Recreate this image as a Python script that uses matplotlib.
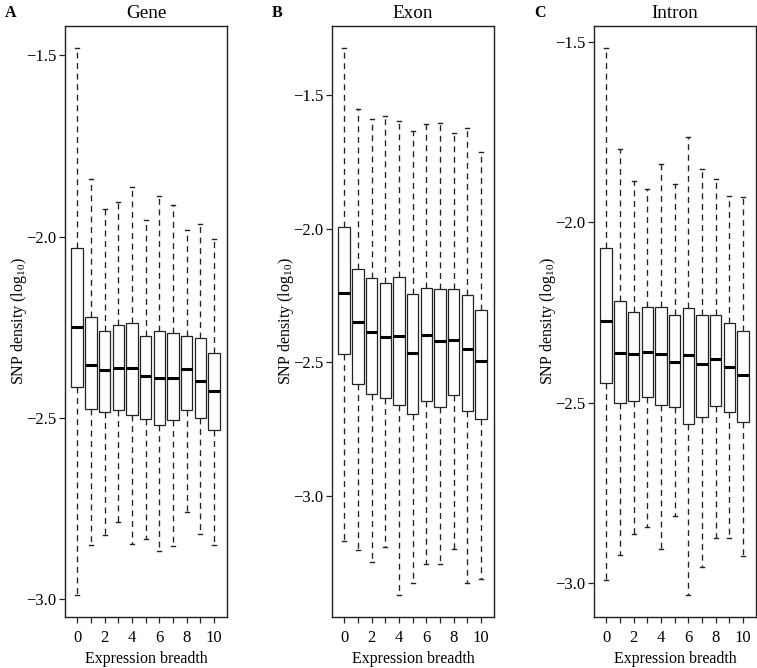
import matplotlib
matplotlib.use("Agg")
import matplotlib.pyplot as plt

plt.rcParams['font.family'] = ['Liberation Serif', 'DejaVu Serif']
plt.rcParams['mathtext.fontset'] = 'custom'
plt.rcParams['mathtext.rm'] = 'Liberation Serif'
plt.rcParams['font.size'] = 11.5

breadth = list(range(11))

# Gene
gene_whishi = [-1.479, -1.841, -1.923, -1.904, -1.864, -1.955, -1.889, -1.913, -1.983, -1.966, -2.006]
gene_q3 = [-2.031, -2.222, -2.259, -2.244, -2.238, -2.275, -2.261, -2.266, -2.275, -2.280, -2.321]
gene_med = [-2.248, -2.353, -2.368, -2.363, -2.363, -2.384, -2.390, -2.389, -2.365, -2.397, -2.427]
gene_q1 = [-2.415, -2.476, -2.484, -2.478, -2.492, -2.502, -2.521, -2.506, -2.478, -2.501, -2.533]
gene_whislo = [-2.989, -2.851, -2.823, -2.788, -2.847, -2.835, -2.866, -2.854, -2.759, -2.820, -2.851]

# Exon
exon_whishi = [-1.323, -1.551, -1.588, -1.579, -1.597, -1.636, -1.610, -1.606, -1.641, -1.622, -1.713]
exon_q3 = [-1.994, -2.152, -2.183, -2.202, -2.179, -2.246, -2.222, -2.227, -2.227, -2.249, -2.305]
exon_med = [-2.239, -2.349, -2.387, -2.404, -2.400, -2.464, -2.398, -2.420, -2.418, -2.451, -2.495]
exon_q1 = [-2.467, -2.580, -2.617, -2.635, -2.658, -2.694, -2.646, -2.666, -2.623, -2.682, -2.711]
exon_whislo = [-3.170, -3.203, -3.247, -3.190, -3.371, -3.324, -3.256, -3.256, -3.197, -3.324, -3.309]

# Intron
intron_whishi = [-1.517, -1.797, -1.885, -1.907, -1.840, -1.894, -1.764, -1.852, -1.880, -1.928, -1.930]
intron_q3 = [-2.071, -2.219, -2.249, -2.235, -2.235, -2.256, -2.239, -2.258, -2.256, -2.279, -2.302]
intron_med = [-2.274, -2.362, -2.366, -2.361, -2.366, -2.386, -2.367, -2.392, -2.378, -2.400, -2.424]
intron_q1 = [-2.445, -2.500, -2.494, -2.484, -2.507, -2.512, -2.558, -2.541, -2.509, -2.526, -2.553]
intron_whislo = [-2.991, -2.921, -2.863, -2.844, -2.906, -2.814, -3.033, -2.955, -2.874, -2.874, -2.925]

yticks = [-3.0, -2.5, -2.0, -1.5]
ytick_labels = ['\u22123.0', '\u22122.5', '\u22122.0', '\u22121.5']

panels = [
    ("A", "Gene", gene_whislo, gene_q1, gene_med, gene_q3, gene_whishi),
    ("B", "Exon", exon_whislo, exon_q1, exon_med, exon_q3, exon_whishi),
    ("C", "Intron", intron_whislo, intron_q1, intron_med, intron_q3, intron_whishi),
]

fig = plt.figure(figsize=(7.57, 6.68), dpi=100)
lefts = [65 / 757, 332 / 757, 594 / 757]
edge = '#222222'

for left, (letter, title, lo, q1, med, q3, hi) in zip(lefts, panels):
    ax = fig.add_axes([left, 0.0763, 162 / 757, 0.885])
    stats = []
    for i in range(len(breadth)):
        stats.append(dict(whislo=lo[i], q1=q1[i], med=med[i], q3=q3[i], whishi=hi[i], fliers=[]))
    ax.bxp(stats, positions=breadth, widths=0.85, capwidths=0.3, patch_artist=True,
           showfliers=False,
           boxprops=dict(facecolor='white', edgecolor=edge, linewidth=0.9),
           medianprops=dict(color='black', linewidth=2.2, solid_capstyle='butt'),
           whiskerprops=dict(color=edge, linewidth=0.95, linestyle=(0, (4.5, 3.5))),
           capprops=dict(color=edge, linewidth=1.0))
    allv = lo + hi
    span = max(allv) - min(allv)
    ax.set_ylim(min(allv) - 0.04 * span, max(allv) + 0.04 * span)
    ax.set_xlim(-0.9, 10.95)
    ax.set_xticks(breadth)
    ax.set_xticklabels([str(b) if b % 2 == 0 else '' for b in breadth])
    ax.set_yticks(yticks)
    ax.set_yticklabels(ytick_labels, fontsize=12)
    ax.tick_params(direction='out', length=4, width=0.9, color=edge)
    ax.tick_params(axis='y', pad=2)
    ax.tick_params(axis='x', pad=5, labelsize=12)
    for s in ax.spines.values():
        s.set_linewidth(1.0)
        s.set_color(edge)
    ax.set_xlabel('Expression breadth', labelpad=4)
    ax.set_ylabel('SNP density (log$_{10}$)', labelpad=-2)
    ax.set_title(title, pad=6)
    ax.text(-0.37, 1.022, letter, transform=ax.transAxes, fontweight='bold',
            ha='left', va='center')

fig.savefig('out.png', dpi=100)
